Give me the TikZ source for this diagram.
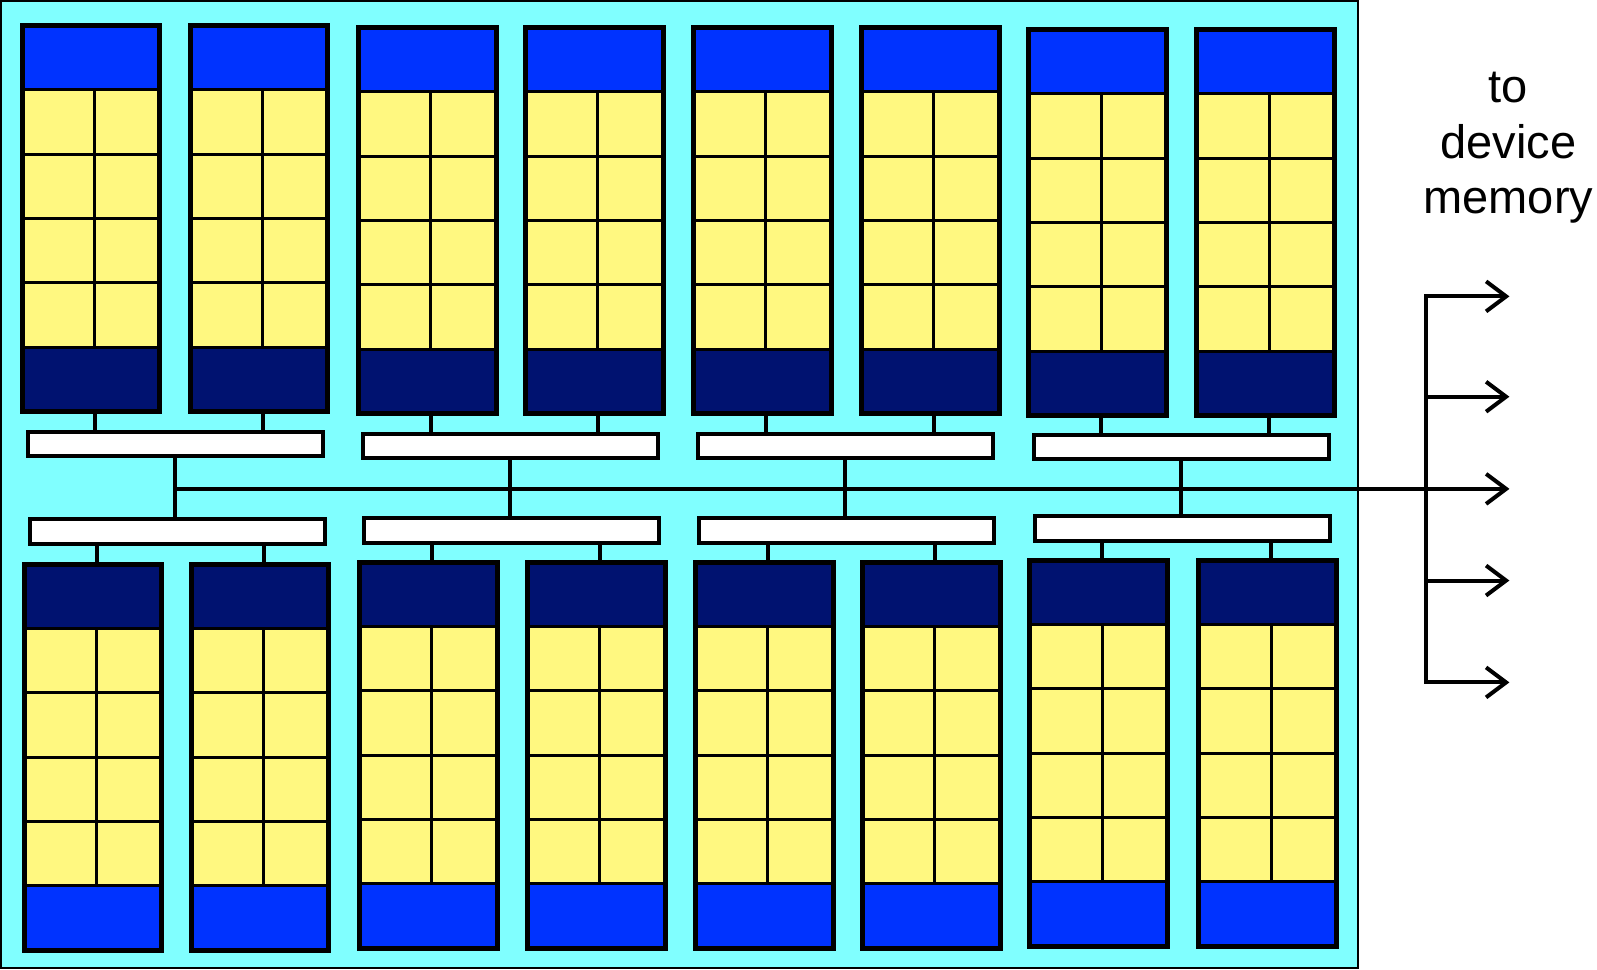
\documentclass[tikz,border=0pt]{standalone}
\usepackage{fontspec}
\setmainfont{Liberation Sans}
\usetikzlibrary{arrows.meta}
\definecolor{bgcyan}{RGB}{128,255,255}
\definecolor{smblue}{RGB}{0,51,255}
\definecolor{smnavy}{RGB}{0,18,112}
\definecolor{cellyellow}{RGB}{255,248,128}
\tikzset{
  smframe/.style={draw=black, line width=5pt, minimum width=137.5pt, minimum height=386pt, inner sep=0pt},
  cellline/.style={draw=black, line width=3pt},
  barbox/.style={draw=black, fill=white, line width=4pt, minimum width=295pt, minimum height=24.5pt, inner sep=0pt},
  link/.style={draw=black, line width=4pt},
  outlink/.style={draw=black, line width=4pt, -{Straight Barb[length=20pt,width=30pt]}},
  label/.style={font=\fontsize{47}{56}\selectfont, anchor=base, inner sep=0pt}
}
\newcommand\smunit[5]{%
  \begin{scope}[shift={(#2,#3)}]
    \fill[cellyellow] (0,0) rectangle (135,379);
    \fill[#4] (0,0) rectangle (135,63.2);
    \fill[#5] (0,315.8) rectangle (135,379);
    \draw[cellline] (0,63.2) -- (135,63.2) (0,126.3) -- (135,126.3)
      (0,189.5) -- (135,189.5) (0,252.7) -- (135,252.7) (0,315.8) -- (135,315.8)
      (71,63.2) -- (71,315.8);
    \node[smframe] (#1) at (67.5,189.5) {};
    \coordinate (#1-u) at (71,0);
    \coordinate (#1-d) at (71,379);
  \end{scope}}
\begin{document}
\begin{tikzpicture}[x=1.0185pt, y=-1.0185pt]
\useasboundingbox (0,0) rectangle (1568,952);
\fill[white] (0,0) rectangle (1568,952);
\draw[fill=bgcyan, line width=2pt] (1,1) rectangle (1333,950);

% top row of SMs
\smunit{t1}{22}{25}{smblue}{smnavy}
\smunit{t2}{187}{25}{smblue}{smnavy}
\smunit{t3}{352}{27}{smblue}{smnavy}
\smunit{t4}{516}{27}{smblue}{smnavy}
\smunit{t5}{681}{27}{smblue}{smnavy}
\smunit{t6}{846}{27}{smblue}{smnavy}
\smunit{t7}{1010}{29}{smblue}{smnavy}
\smunit{t8}{1175}{29}{smblue}{smnavy}
% bottom row of SMs
\smunit{s1}{24}{554}{smnavy}{smblue}
\smunit{s2}{188}{554}{smnavy}{smblue}
\smunit{s3}{353}{552}{smnavy}{smblue}
\smunit{s4}{518}{552}{smnavy}{smblue}
\smunit{s5}{683}{552}{smnavy}{smblue}
\smunit{s6}{847}{552}{smnavy}{smblue}
\smunit{s7}{1011}{550}{smnavy}{smblue}
\smunit{s8}{1177}{550}{smnavy}{smblue}

% bars
\node[barbox] (b1) at (172,436) {};
\node[barbox] (b2) at (501,438) {};
\node[barbox] (b3) at (830,438) {};
\node[barbox] (b4) at (1160,439) {};
\node[barbox] (b5) at (174,522) {};
\node[barbox] (b6) at (502,521) {};
\node[barbox] (b7) at (831,521) {};
\node[barbox] (b8) at (1161,519) {};

% stubs
\foreach \s/\b in {t1/b1,t2/b1,t3/b2,t4/b2,t5/b3,t6/b3,t7/b4,t8/b4}
  \draw[link] (\s-d) -- (\s-d |- \b.north);
\foreach \s/\b in {s1/b5,s2/b5,s3/b6,s4/b6,s5/b7,s6/b7,s7/b8,s8/b8}
  \draw[link] (\s-u) -- (\s-u |- \b.south);

% verticals between bar pairs
\foreach \a/\b in {b1/b5,b2/b6,b3/b7,b4/b8}
  \draw[link] (\a.south) -- (\a.south |- \b.north);

% bus and outputs
\coordinate (busstart) at (173,480);
\coordinate (o1) at (1482,291);
\coordinate (o2) at (1482,389.5);
\coordinate (o3) at (1482,480);
\coordinate (o4) at (1482,570);
\coordinate (o5) at (1482,670);
\coordinate (v1) at (1400,291);
\coordinate (v2) at (1400,389.5);
\coordinate (v4) at (1400,570);
\coordinate (v5) at (1400,670);
\draw[outlink] (busstart) -- (o3);
\draw[link, line cap=rect] (v1) -- (v5);
\draw[outlink] (v1) -- (o1);
\draw[outlink] (v2) -- (o2);
\draw[outlink] (v4) -- (o4);
\draw[outlink] (v5) -- (o5);

% label
\node[label] (l1) at (1481,101) {to};
\node[label] (l2) at (1481,156) {device};
\node[label] (l3) at (1481,210) {memory};
\end{tikzpicture}
\end{document}
